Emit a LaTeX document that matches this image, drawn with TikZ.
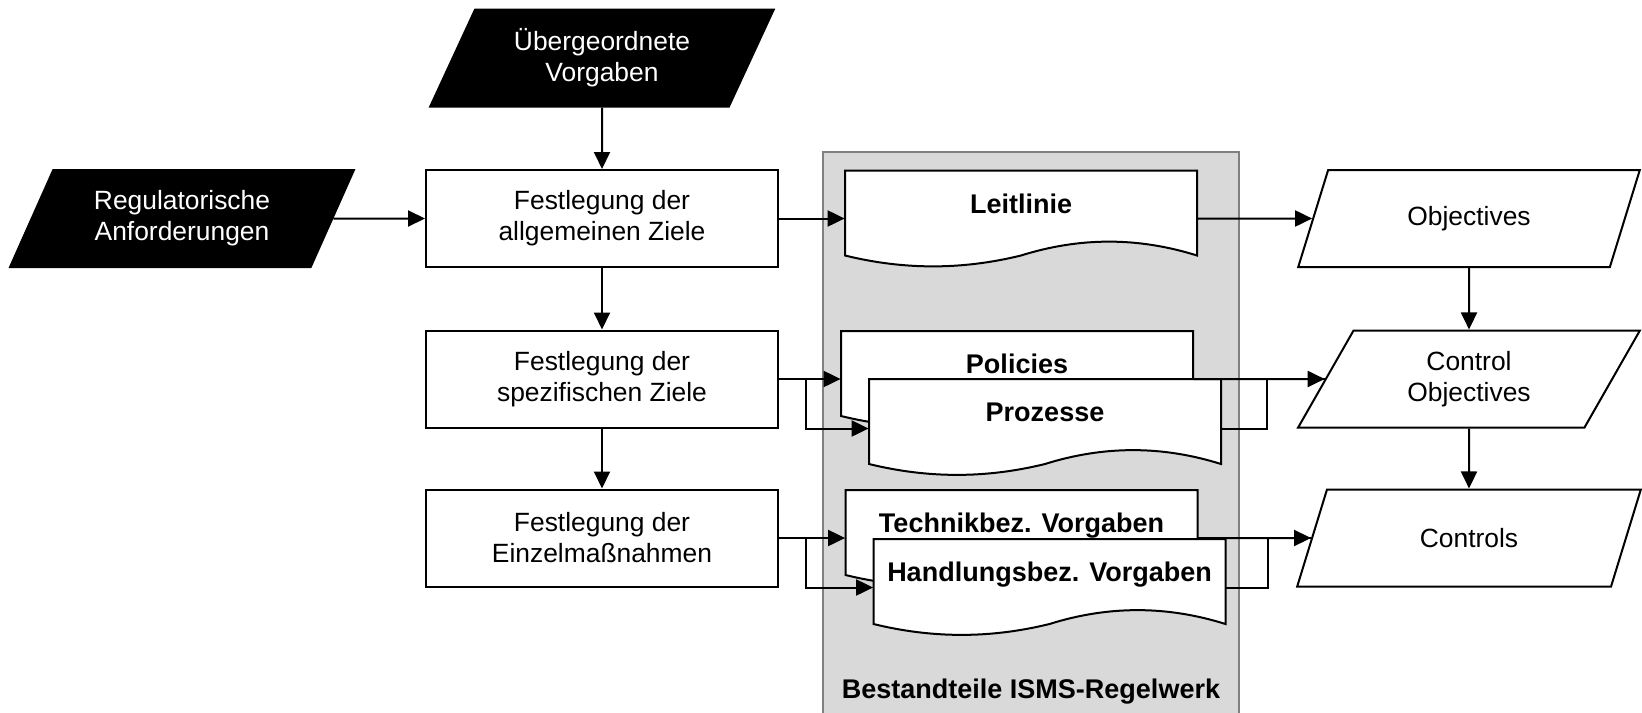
\documentclass[tikz,border=0pt]{standalone}
\usepackage{fontspec}
\setmainfont{Liberation Sans}
\usetikzlibrary{arrows.meta,shapes.geometric}

\tikzset{
  arr/.style={line width=1pt,-{Triangle[length=8.5pt,width=8pt]}},
  conn/.style={line width=1pt},
  stepbox/.style={draw, line width=1pt, fill=white, minimum width=176pt,
    minimum height=48.5pt, inner sep=0pt, align=center,
    font=\fontsize{13.2}{15.5}\selectfont},
  datain/.style={trapezium, trapezium left angle=62, trapezium right angle=118,
    trapezium stretches=true, draw, line width=1pt, fill=black, text=white,
    minimum width=172pt, minimum height=48.5pt, inner sep=0pt, align=center,
    font=\fontsize{13.2}{15.5}\selectfont},
  dataout/.style={datain, fill=white, text=black},
  doctext/.style={minimum width=176pt, minimum height=42.5pt, inner sep=0pt,
    text height=8pt, text depth=8pt,
    font=\fontsize{13.5}{15}\selectfont\bfseries},
  docpic/.pic={
    \draw[line width=1pt, fill=white] (-176,-42.5) -- (-176,42.5)
      .. controls (-117,57) and (-59,57) .. (0,42.5)
      .. controls (59,24) and (117,24) .. (176,42.5) -- (176,-42.5) -- cycle;
  }
}

\begin{document}
\begin{tikzpicture}[x=0.5pt,y=-0.5pt]
\useasboundingbox (0,0) rectangle (1642,712);

% ISMS-Regelwerk
\draw[fill=black!15, draw=black!50, line width=0.8pt] (823,152) rectangle (1239,716);
\node[font=\fontsize{13.5}{15}\selectfont\bfseries] (regelwerk) at (1031,692) {Bestandteile ISMS-Regelwerk};

% Eingaben
\node[datain] (ueber) at (602,58) {Übergeordnete\\Vorgaben};
\node[datain] (reg) at (182,218.5) {Regulatorische\\Anforderungen};

% Festlegungen
\node[stepbox] (allg) at (602,218.5) {Festlegung der\\allgemeinen Ziele};
\node[stepbox] (spez) at (602,379) {Festlegung der\\spezifischen Ziele};
\node[stepbox] (einz) at (602,538) {Festlegung der\\Einzelmaßnahmen};

% Dokumente
\pic at (1021,213) {docpic};
\node[doctext] (leit) at (1021,213) {Leitlinie};
\pic at (1017,373.5) {docpic};
\node[doctext] (pol) at (1017,373.5) {Policies};
\pic at (1045,421.5) {docpic};
\node[doctext] (proz) at (1045,421.5) {Prozesse};
\pic at (1021.5,532.5) {docpic};
\node[doctext] (tech) at (1021.5,532.5) {Technikbez. Vorgaben};
\pic at (1049.5,581.5) {docpic};
\node[doctext] (hand) at (1049.5,581.5) {Handlungsbez. Vorgaben};

% Ergebnisse
\node[dataout] (obj) at (1469,218.5) {Objectives};
\node[dataout] (cobj) at (1469,379) {Control\\Objectives};
\node[dataout] (ctrl) at (1469,538) {Controls};

% Verbindungen
\draw[arr] (ueber) -- (allg);
\draw[arr] (reg.east) -- (allg.west);
\draw[arr] (allg) -- (spez);
\draw[arr] (spez) -- (einz);
\draw[arr] (obj) -- (cobj);
\draw[arr] (cobj) -- (ctrl);

\draw[arr] (allg.east) -- (allg.east -| leit.west);
\draw[arr] (allg.east -| leit.east) -- (obj.west);

\draw[arr] (spez.east) -- (spez.east -| pol.west);
\draw[arr] (spez.east) -- ++(27,0) |- (spez.south -| proz.west);
\draw[arr] (spez.east -| pol.east) -- (cobj.west);
\draw[conn] (spez.south -| proz.east) -- ++(46,0) |- (cobj.west);

\draw[arr] (einz.east) -- (einz.east -| tech.west);
\draw[arr] (einz.east) -- ++(27,0) |- (einz.south -| hand.west);
\draw[arr] (einz.east -| tech.east) -- (ctrl.west);
\draw[conn] (einz.south -| hand.east) -- ++(42,0) |- (ctrl.west);
\end{tikzpicture}
\end{document}
